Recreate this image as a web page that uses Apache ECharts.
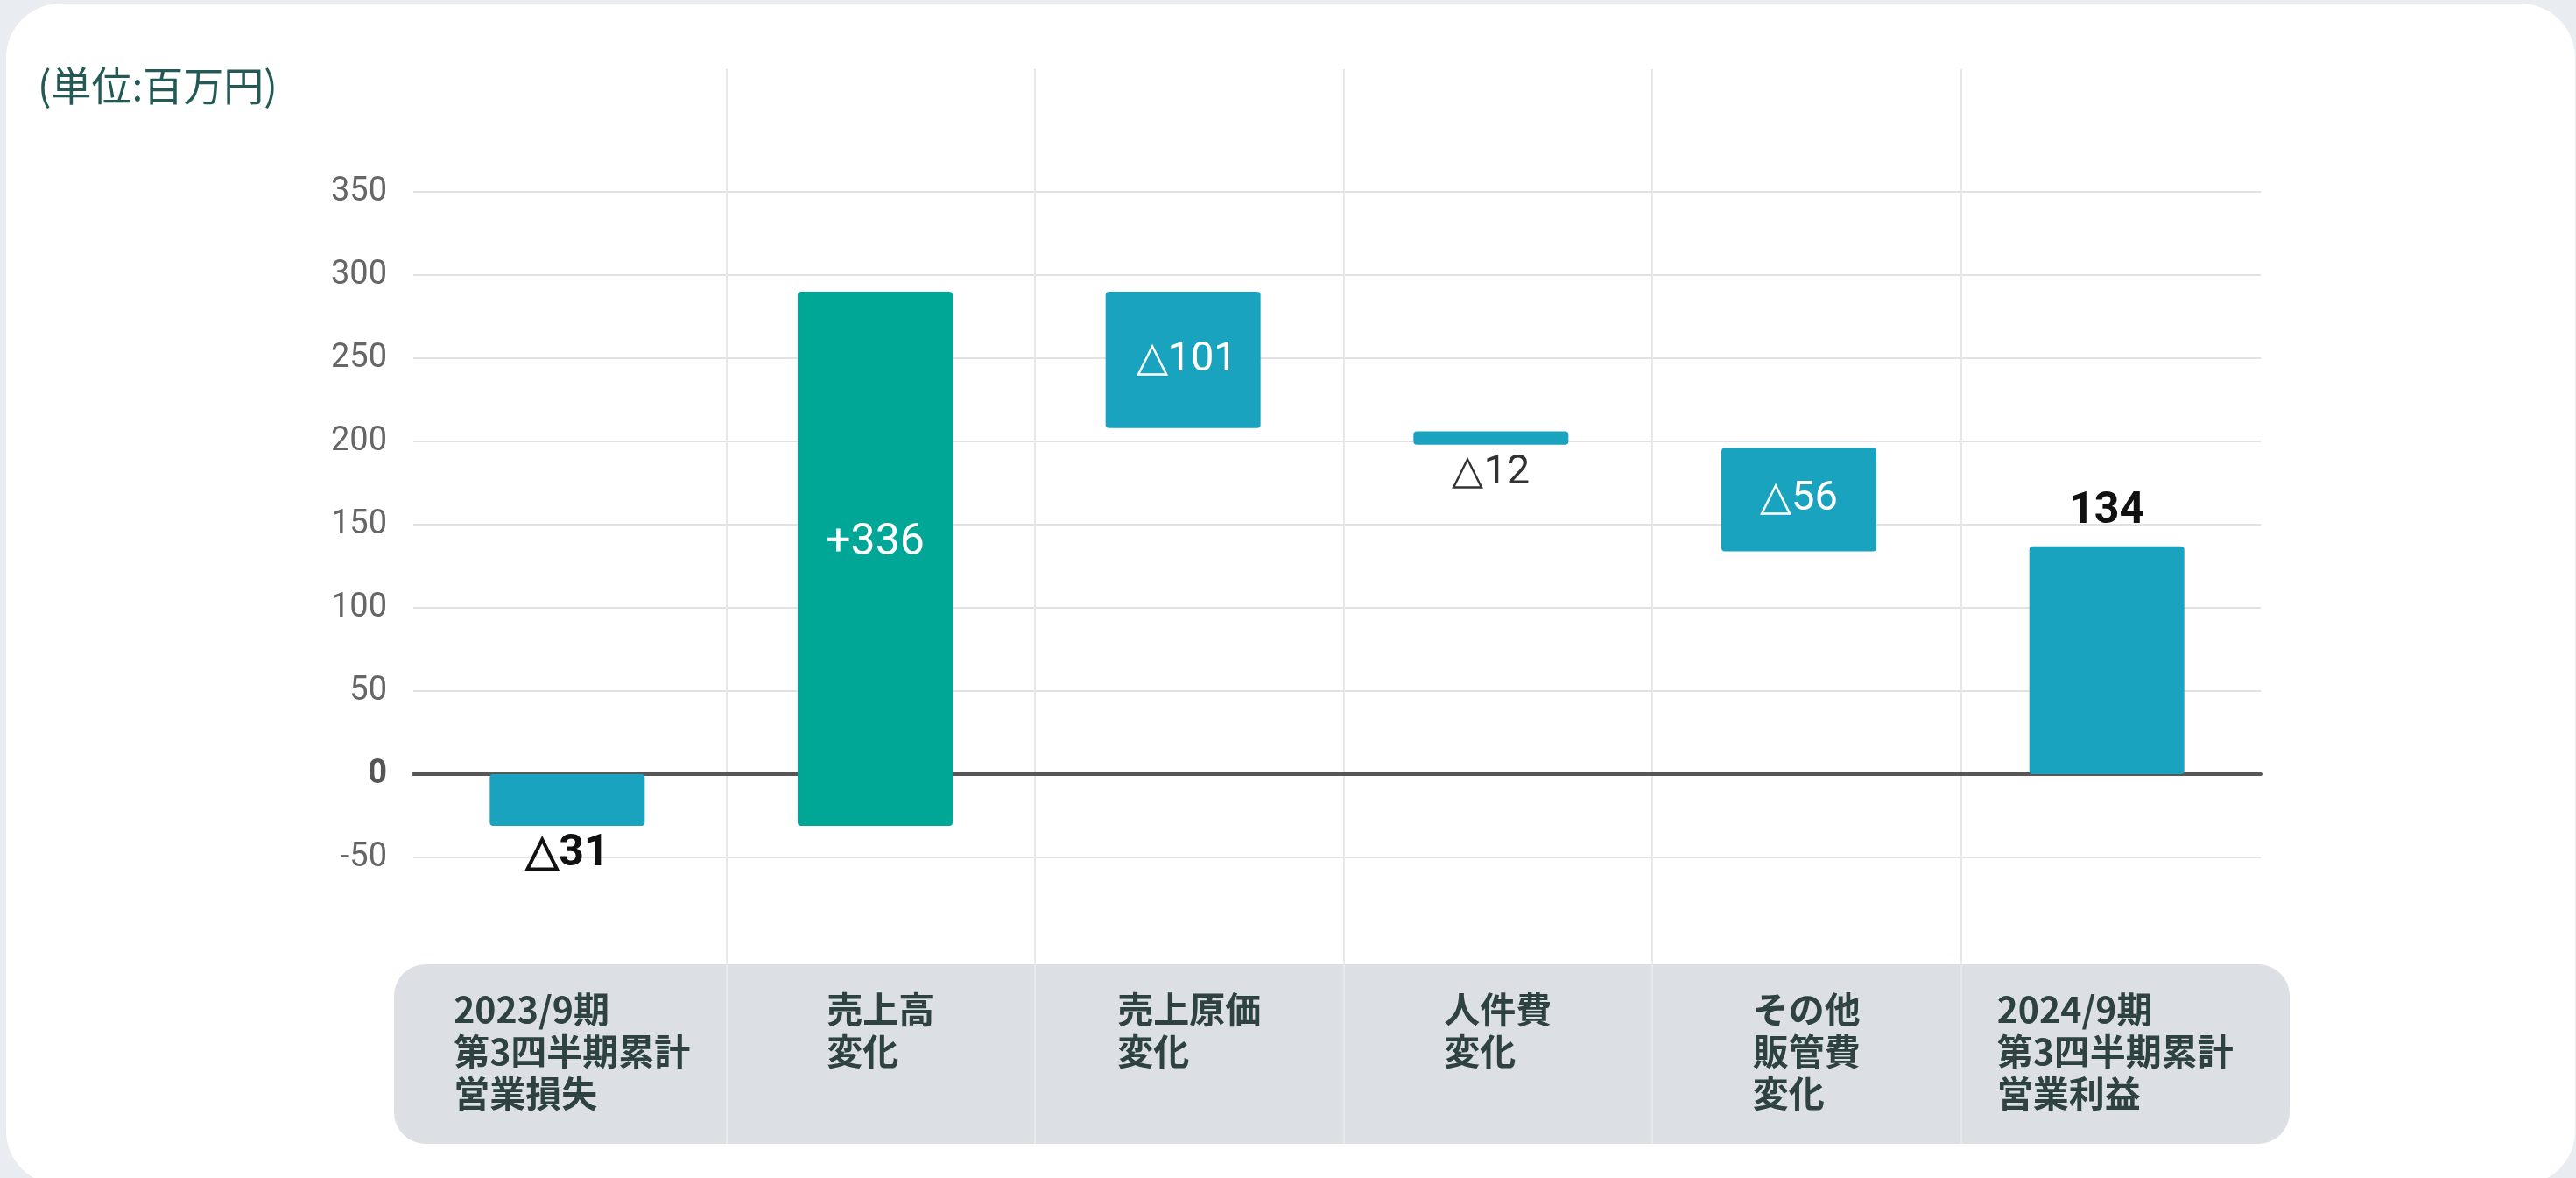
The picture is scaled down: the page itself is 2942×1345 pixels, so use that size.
<!DOCTYPE html>
<html>
<head>
<meta charset="utf-8">
<script src="https://cdn.jsdelivr.net/npm/echarts@6/dist/echarts.min.js"></script>
<style>
  html, body { margin: 0; padding: 0; background: #e9ecf0; overflow: hidden; }
  #card { position: absolute; left: 7px; top: 4px; width: 2934px; height: 1349px; background: #fff; border-radius: 62px; }
  #waterfall { position: absolute; left: 0; top: 0; width: 2942px; height: 1345px; }
</style>
</head>
<body>
<div id="card"></div>
<div id="waterfall"></div>
<script>
/* data */
var categories = [
  '2023/9期\n第3四半期累計\n営業損失',
  '売上高\n変化',
  '売上原価\n変化',
  '人件費\n変化',
  'その他\n販管費\n変化',
  '2024/9期\n第3四半期累計\n営業利益'
];
var barLow  = [-31, -31, 208, 198, 134, 0];
var barHigh = [0, 290, 290, 206, 196, 137];
var barKind = ['total', 'up', 'down', 'down', 'down', 'total'];
var barText = ['△31', '+336', '△101', '△12', '△56', '134'];
var yTicks  = [-50, 0, 50, 100, 150, 200, 250, 300, 350];
var unitText = '(単位:百万円)';

var numFont = 'Roboto, "Noto Sans", sans-serif';
var jpFont = '"Noto Sans CJK JP", "Noto Sans", sans-serif';

/* label look per bar */
var labelLook = [
  { position: 'bottom', distance: 8, color: '#111', fontWeight: 'bold', fontSize: 50 },
  { position: 'inside', color: '#fff', fontWeight: 'normal', fontSize: 50, offset: [0, -17] },
  { position: 'inside', color: '#fff', fontWeight: 'normal', fontSize: 47, offset: [4, 0] },
  { position: 'bottom', distance: 9, color: '#333', fontWeight: 'normal', fontSize: 47 },
  { position: 'inside', color: '#fff', fontWeight: 'normal', fontSize: 47 },
  { position: 'top', distance: 14, color: '#111', fontWeight: 'bold', fontSize: 50 }
];

var chart = echarts.init(document.getElementById('waterfall'));

var visible = barHigh.map(function (h, i) {
  var look = labelLook[i];
  return {
    value: h - barLow[i],
    itemStyle: { color: barKind[i] == 'up' ? '#00a797' : '#1aa3be', borderRadius: 4 },
    label: {
      show: true,
      formatter: barText[i],
      position: look.position,
      distance: look.distance || 5,
      offset: look.offset || [0, 0],
      color: look.color,
      fontWeight: look.fontWeight,
      fontSize: look.fontSize,
      fontFamily: numFont
    }
  };
});

var option = {
  animation: false,
  backgroundColor: 'transparent',
  title: {
    text: unitText,
    left: 38,
    top: 70,
    textStyle: { fontSize: 46, fontWeight: 'normal', color: '#245a55', fontFamily: jpFont }
  },
  graphic: [
    {
      type: 'rect',
      left: 450,
      top: 1101,
      z: -1,
      shape: { width: 2165, height: 205, r: 36 },
      style: { fill: '#dcdfe3' }
    }
  ],
  grid: [
    /* frame grid: column dividers and category names */
    { left: 477, width: 2115, top: 79, height: 1227 },
    /* plot grid */
    { left: 472, width: 2110, top: 219, height: 760 }
  ],
  xAxis: [
    {
      type: 'category',
      gridIndex: 0,
      data: categories,
      axisLine: { show: false },
      axisTick: { show: false },
      splitLine: {
        show: true,
        showMinLine: false,
        showMaxLine: false,
        lineStyle: { color: '#e7e8eb', width: 2 }
      },
      axisLabel: {
        inside: true,
        margin: 178,
        verticalAlign: 'top',
        interval: 0,
        formatter: function (value) {
          return value.split('\n').map(function (l) { return '{a|' + l + '}'; }).join('\n');
        },
        rich: {
          a: {
            align: 'left',
            fontSize: 41,
            lineHeight: 48,
            fontWeight: 'bold',
            color: '#2e4242',
            fontFamily: jpFont
          }
        }
      }
    },
    {
      type: 'category',
      gridIndex: 1,
      data: categories,
      axisLine: { show: true, onZero: true, lineStyle: { color: '#575757', width: 4 } },
      axisTick: { show: false },
      axisLabel: { show: false },
      splitLine: { show: false }
    }
  ],
  yAxis: [
    { type: 'value', gridIndex: 0, show: false, min: 0, max: 1 },
    {
      type: 'value',
      gridIndex: 1,
      min: yTicks[0],
      max: yTicks[yTicks.length - 1],
      interval: yTicks[1] - yTicks[0],
      axisLine: { show: false },
      axisTick: { show: false },
      splitLine: { show: true, lineStyle: { color: '#e0e2e6', width: 2 } },
      axisLabel: {
        margin: 30,
        fontSize: 38,
        color: '#666',
        fontFamily: numFont,
        formatter: function (v) { return v === 0 ? '{z|0}' : String(v); },
        rich: {
          z: { fontSize: 38, fontWeight: 'bold', color: '#555', fontFamily: numFont }
        }
      }
    }
  ],
  series: [
    {
      name: 'base',
      type: 'bar',
      xAxisIndex: 1,
      yAxisIndex: 1,
      stack: 'w',
      stackStrategy: 'all',
      barWidth: 177,
      silent: true,
      itemStyle: { color: 'transparent' },
      data: barLow
    },
    {
      name: 'change',
      type: 'bar',
      xAxisIndex: 1,
      yAxisIndex: 1,
      stack: 'w',
      stackStrategy: 'all',
      barWidth: 177,
      data: visible
    }
  ]
};

option && chart.setOption(option);
</script>
</body>
</html>
